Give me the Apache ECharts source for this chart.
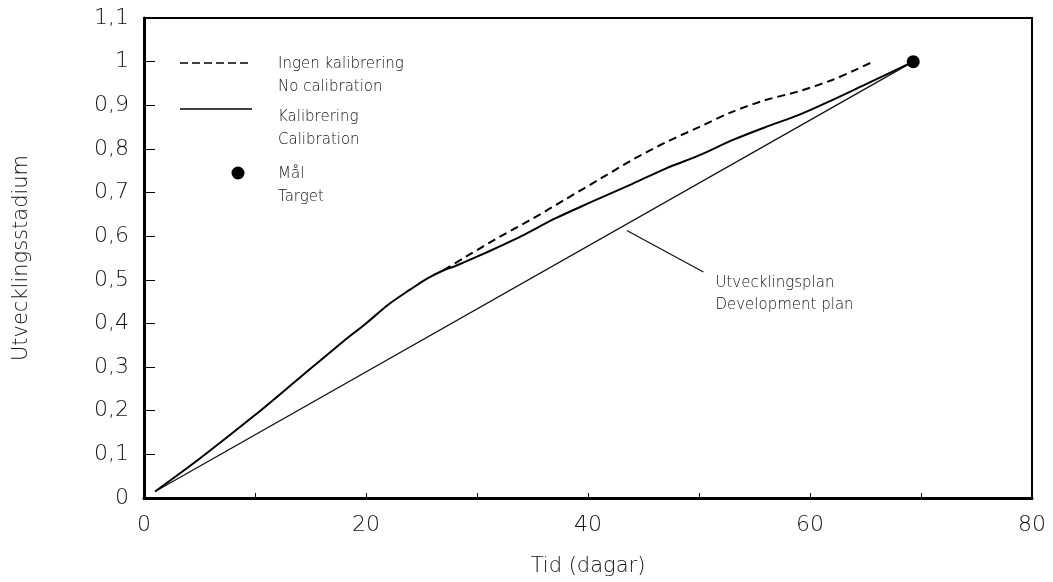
<!DOCTYPE html>
<html>
<head>
<meta charset="utf-8">
<script src="https://cdn.jsdelivr.net/npm/echarts@6/dist/echarts.min.js"></script>
<style>
  html, body { margin: 0; padding: 0; background: #fff; }
  #chart { width: 1053px; height: 582px; }
</style>
</head>
<body>
<div id="chart"></div>
<script>
// Development stage over time (days)
const calibTime  = [1, 5, 10, 14, 18, 20, 22, 24, 25.5, 27, 28, 30, 32, 34, 37, 40, 44, 47, 50, 53, 56, 59, 62, 65, 67, 69.3];
const calibStage = [0.015, 0.09, 0.19, 0.275, 0.36, 0.40, 0.443, 0.478, 0.503, 0.522, 0.531, 0.553, 0.576, 0.60, 0.64, 0.675, 0.72, 0.755, 0.785, 0.82, 0.85, 0.878, 0.912, 0.948, 0.972, 1.0];

const noCalibTime  = [27, 29, 32, 35, 38, 41, 44, 47, 50, 53, 56, 59, 62, 64, 65.7];
const noCalibStage = [0.522, 0.553, 0.598, 0.64, 0.685, 0.73, 0.775, 0.815, 0.85, 0.885, 0.912, 0.932, 0.958, 0.98, 1.0];

const planTime  = [1, 69.3];
const planStage = [0.015, 1.0];

const targetTime  = [69.3];
const targetStage = [1.0];

// leader line from the plan line to its label
const leaderTime  = [43.5, 50.4];
const leaderStage = [0.613, 0.518];
const planLabel = ['Utvecklingsplan', 'Development plan'];

const xTicks = { min: 0, max: 80, step: 10, labelEvery: 20 };
const yTicks = { min: 0, max: 1.1, step: 0.1 };

const legendItems = [
  ['Ingen kalibrering', 'No calibration'],
  ['Kalibrering', 'Calibration'],
  ['Mål', 'Target']
];

const zip = (a, b) => a.map((v, i) => [v, b[i]]);
const FONT = 'DejaVu Sans';
const INK = '#111';

const chart = echarts.init(document.getElementById('chart'), null, { renderer: 'canvas' });

const legendText = (x, y, lines) => ({
  type: 'text', left: x, top: y,
  style: { text: lines.join('\n'), font: '300 15px "' + FONT + '"', fill: INK, lineHeight: 23 }
});

chart.setOption({
  animation: false,
  backgroundColor: '#fff',
  grid: { left: 144, right: 21, top: 18, bottom: 78, show: true, borderColor: '#000', borderWidth: 2 },
  xAxis: {
    type: 'value', min: xTicks.min, max: xTicks.max, interval: xTicks.step,
    name: 'Tid (dagar)', nameLocation: 'middle', nameGap: 58,
    nameTextStyle: { fontFamily: FONT, fontSize: 21, fontWeight: 300, color: INK },
    axisLine: { lineStyle: { color: '#000', width: 3 } },
    axisTick: { inside: true, length: 5, lineStyle: { color: '#000', width: 1 } },
    axisLabel: {
      margin: 16, fontFamily: FONT, fontSize: 22, fontWeight: 300, color: INK,
      formatter: v => (v % xTicks.labelEvery === 0 ? String(v) : '')
    },
    splitLine: { show: false }
  },
  yAxis: {
    type: 'value', min: yTicks.min, max: yTicks.max, interval: yTicks.step,
    name: 'Utvecklingsstadium', nameLocation: 'middle', nameGap: 112, nameRotate: 90,
    nameTextStyle: { fontFamily: FONT, fontSize: 21, fontWeight: 300, color: INK },
    axisLine: { lineStyle: { color: '#000', width: 3 } },
    axisTick: { inside: true, length: 11, lineStyle: { color: '#000', width: 1 } },
    axisLabel: {
      margin: 15, fontFamily: FONT, fontSize: 22, fontWeight: 300, color: INK,
      formatter: v => String(Math.round(v * 10) / 10).replace('.', ',')
    },
    splitLine: { show: false }
  },
  series: [
    {
      name: 'Utvecklingsplan', type: 'line', data: zip(planTime, planStage),
      symbol: 'none', lineStyle: { color: '#111', width: 1.3 }, z: 2
    },
    {
      name: 'Ingen kalibrering', type: 'line', data: zip(noCalibTime, noCalibStage),
      symbol: 'none', smooth: 0.3, lineStyle: { color: '#000', width: 2, type: [8, 5] }, z: 3
    },
    {
      name: 'Kalibrering', type: 'line', data: zip(calibTime, calibStage),
      symbol: 'none', smooth: 0.3, lineStyle: { color: '#000', width: 2 }, z: 4
    },
    {
      name: 'leader', type: 'line', data: zip(leaderTime, leaderStage),
      symbol: 'none', lineStyle: { color: '#111', width: 1.2 }, z: 2,
      endLabel: {
        show: true, formatter: planLabel.join('\n'), distance: 12,
        fontFamily: FONT, fontSize: 15, fontWeight: 300, color: INK, lineHeight: 22,
        align: 'left', verticalAlign: 'top'
      }
    },
    {
      name: 'Mål', type: 'scatter', data: zip(targetTime, targetStage),
      symbol: 'circle', symbolSize: 13, itemStyle: { color: '#000', opacity: 1 }, z: 5
    }
  ],
  graphic: [
    { type: 'line', shape: { x1: 180, y1: 63, x2: 252, y2: 63 }, style: { stroke: '#000', lineWidth: 1.5, lineDash: [8, 4] } },
    legendText(278, 53, legendItems[0]),
    { type: 'line', shape: { x1: 180, y1: 109, x2: 252, y2: 109 }, style: { stroke: '#000', lineWidth: 1.5 } },
    legendText(278, 106, legendItems[1]),
    { type: 'circle', shape: { cx: 238, cy: 173, r: 6.5 }, style: { fill: '#000' } },
    legendText(278, 163, legendItems[2])
  ]
});
</script>
</body>
</html>
